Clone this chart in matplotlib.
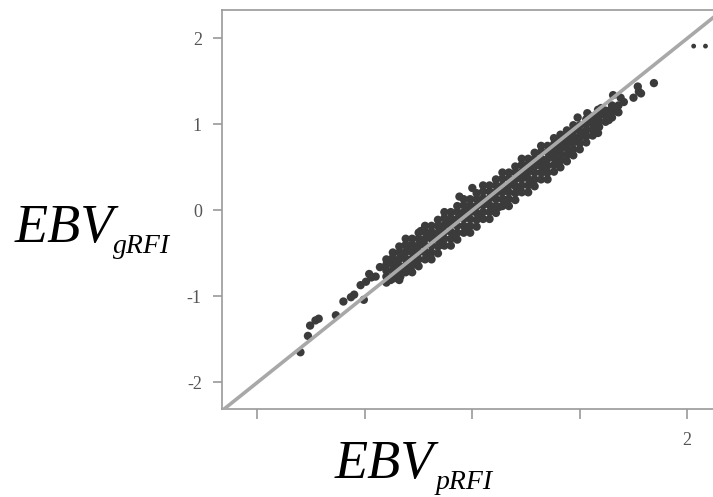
import matplotlib
matplotlib.use("Agg")
import matplotlib.pyplot as plt

# EBV from pRFI (x) against EBV from gRFI (y)
# left tail
ebv_p = [-1.60, -1.53, -1.51, -1.46, -1.43, -1.27, -1.20, -1.13, -1.10, -1.04,
         -0.99, -1.01, -0.96, -0.94, -0.90, -0.86, -0.79, -0.76, -0.76, -0.71,
         -0.67, -0.60, -0.73, -0.48, -0.39]
ebv_g = [-1.65, -1.46, -1.34, -1.28, -1.26, -1.22, -1.06, -1.01, -0.98, -0.87,
         -0.83, -1.04, -0.74, -0.78, -0.77, -0.66, -0.61, -0.60, -0.81, -0.78,
         -0.77, -0.67, -0.79, -0.24, -0.55]

# dense band, column by column
band_p = [-0.80] * 5 + [-0.74] * 5 + [-0.68] * 6 + [-0.62] * 6 + [-0.56] * 6 + \
         [-0.50] * 6 + [-0.44] * 6 + [-0.38] * 6 + [-0.32] * 6 + [-0.26] * 6 + \
         [-0.20] * 6 + [-0.14] * 6 + [-0.08] * 6 + [-0.02] * 6 + [0.04] * 6 + \
         [0.10] * 6 + [0.16] * 6 + [0.22] * 6 + [0.28] * 6 + [0.34] * 6 + \
         [0.40] * 6 + [0.46] * 6 + [0.52] * 6 + [0.58] * 6 + [0.64] * 6 + \
         [0.70] * 6 + [0.76] * 6 + [0.82] * 6 + [0.88] * 6 + [0.94] * 5 + \
         [1.00] * 5 + [1.06] * 5 + [1.12] * 4 + [1.18] * 3 + [1.24] * 3 + \
         [1.30] * 3 + [1.36] * 2
band_g = [-0.84, -0.77, -0.70, -0.63, -0.57,
          -0.76, -0.69, -0.62, -0.55, -0.49,
          -0.81, -0.73, -0.65, -0.57, -0.49, -0.42,
          -0.72, -0.64, -0.56, -0.48, -0.40, -0.33,
          -0.72, -0.64, -0.56, -0.48, -0.40, -0.33,
          -0.65, -0.57, -0.49, -0.41, -0.33, -0.26,
          -0.57, -0.49, -0.41, -0.33, -0.25, -0.18,
          -0.57, -0.49, -0.41, -0.33, -0.25, -0.18,
          -0.50, -0.42, -0.34, -0.26, -0.18, -0.11,
          -0.41, -0.33, -0.25, -0.17, -0.09, -0.02,
          -0.41, -0.33, -0.25, -0.17, -0.09, -0.02,
          -0.34, -0.26, -0.18, -0.10, -0.02, 0.05,
          -0.26, -0.18, -0.10, -0.02, 0.06, 0.13,
          -0.26, -0.18, -0.10, -0.02, 0.06, 0.13,
          -0.19, -0.11, -0.03, 0.05, 0.13, 0.20,
          -0.10, -0.02, 0.06, 0.14, 0.22, 0.29,
          -0.10, -0.02, 0.06, 0.14, 0.22, 0.29,
          -0.03, 0.05, 0.13, 0.21, 0.29, 0.36,
          0.05, 0.13, 0.21, 0.29, 0.37, 0.44,
          0.05, 0.13, 0.21, 0.29, 0.37, 0.44,
          0.12, 0.20, 0.28, 0.36, 0.44, 0.51,
          0.21, 0.29, 0.37, 0.45, 0.53, 0.60,
          0.21, 0.29, 0.37, 0.45, 0.53, 0.60,
          0.28, 0.36, 0.44, 0.52, 0.60, 0.67,
          0.36, 0.44, 0.52, 0.60, 0.68, 0.75,
          0.36, 0.44, 0.52, 0.60, 0.68, 0.75,
          0.45, 0.53, 0.61, 0.69, 0.77, 0.84,
          0.50, 0.58, 0.66, 0.74, 0.82, 0.88,
          0.57, 0.64, 0.72, 0.80, 0.87, 0.93,
          0.64, 0.71, 0.79, 0.86, 0.93,
          0.71, 0.78, 0.85, 0.92, 0.99,
          0.79, 0.86, 0.93, 1.00, 1.06,
          0.87, 0.94, 1.01, 1.08,
          0.97, 1.04, 1.11,
          1.03, 1.10, 1.16,
          1.08, 1.15, 1.22,
          1.14, 1.22]

# in-between points that fill the band
fill_p = [-0.71, -0.65, -0.59, -0.53, -0.47, -0.41, -0.35, -0.29, -0.23, -0.17,
          -0.11, -0.05, 0.01, 0.07, 0.13, 0.19, 0.25, 0.31, 0.37, 0.43,
          0.49, 0.55, 0.61, 0.67, 0.73, 0.79, 0.85, 0.91, 0.97, 1.03,
          -0.65, -0.53, -0.41, -0.29, -0.17, -0.05, 0.07, 0.19, 0.31, 0.43,
          0.55, 0.67, 0.79, 0.91]
fill_g = [-0.60, -0.52, -0.47, -0.42, -0.38, -0.30, -0.28, -0.22, -0.15, -0.13,
          -0.06, -0.02, 0.03, 0.08, 0.12, 0.18, 0.22, 0.28, 0.31, 0.38,
          0.42, 0.47, 0.53, 0.58, 0.63, 0.69, 0.74, 0.79, 0.84, 0.89,
          -0.69, -0.61, -0.50, -0.40, -0.29, -0.20, -0.08, 0.02, 0.12, 0.23,
          0.33, 0.45, 0.56, 0.68]

# scattered points near the band and the right tail
tail_p = [-0.12, 0.00, 0.25, 0.82, 0.94, 0.98, 1.07, 1.08, 1.15, 1.17, 1.17,
          1.20, 1.27, 1.29, 1.31, 1.35, 1.38, 1.41, 1.50, 1.54, 1.55, 1.57, 1.69]
tail_g = [0.16, 0.26, 0.04, 0.59, 0.99, 1.08, 1.13, 1.11, 0.90, 0.90, 1.17,
          1.19, 1.05, 1.17, 1.34, 1.15, 1.31, 1.26, 1.31, 1.44, 1.38, 1.36, 1.48]

# two small dots at the top right
far_p = [2.06, 2.17]
far_g = [1.91, 1.91]

ref_intercept = 0.0
ref_slope = 1.0

xticks = [-2, -1, 0, 1, 2]
xtick_labels = ['', '', '', '', '2']
yticks = [-2, -1, 0, 1, 2]
ytick_labels = ['-2', '-1', '0', '1', '2']

W, H = 713, 497
fig = plt.figure(figsize=(W / 100, H / 100), dpi=100)
ax = fig.add_axes([222 / W, 1 - 409 / H, (W - 222) / W, (409 - 10) / H])

dot = '#3b3b3b'
ax.scatter(ebv_p + band_p + fill_p + tail_p, ebv_g + band_g + fill_g + tail_g,
           s=36, c=dot, edgecolors='none', zorder=2)
ax.scatter(far_p, far_g, s=12, c=dot, edgecolors='none', zorder=2)
ax.axline((0, ref_intercept), slope=ref_slope, color='#a8a8a8', lw=2.6, zorder=3)

ax.set_xlim(-2.33, 2.24)
ax.set_ylim(-2.31, 2.33)

spine_col = '#9a9a9a'
for side in ['left', 'bottom', 'top']:
    ax.spines[side].set_color(spine_col)
    ax.spines[side].set_linewidth(1.2)
ax.spines['right'].set_visible(False)

ax.set_xticks(xticks)
ax.set_xticklabels(xtick_labels)
ax.set_yticks(yticks)
ax.set_yticklabels(ytick_labels)
ax.tick_params(axis='both', direction='out', color=spine_col, width=1.2,
               labelcolor='#555555', labelsize=13)
ax.tick_params(axis='y', length=6.5, pad=8)
ax.tick_params(axis='x', length=7.5, pad=9)
for lab in ax.get_xticklabels() + ax.get_yticklabels():
    lab.set_family('Liberation Serif')

# axis titles: EBV with italic subscript
serif = 'Liberation Serif'
fig.text(15 / W, 1 - 242 / H, 'EBV', family=serif, style='italic', fontsize=39,
         va='baseline', ha='left')
fig.text(113 / W, 1 - 253 / H, 'gRFI', family=serif, style='italic', fontsize=20,
         va='baseline', ha='left')
fig.text(335 / W, 1 - 478 / H, 'EBV', family=serif, style='italic', fontsize=39,
         va='baseline', ha='left')
fig.text(436 / W, 1 - 489 / H, 'pRFI', family=serif, style='italic', fontsize=20,
         va='baseline', ha='left')

fig.savefig('out.png', dpi=100)
